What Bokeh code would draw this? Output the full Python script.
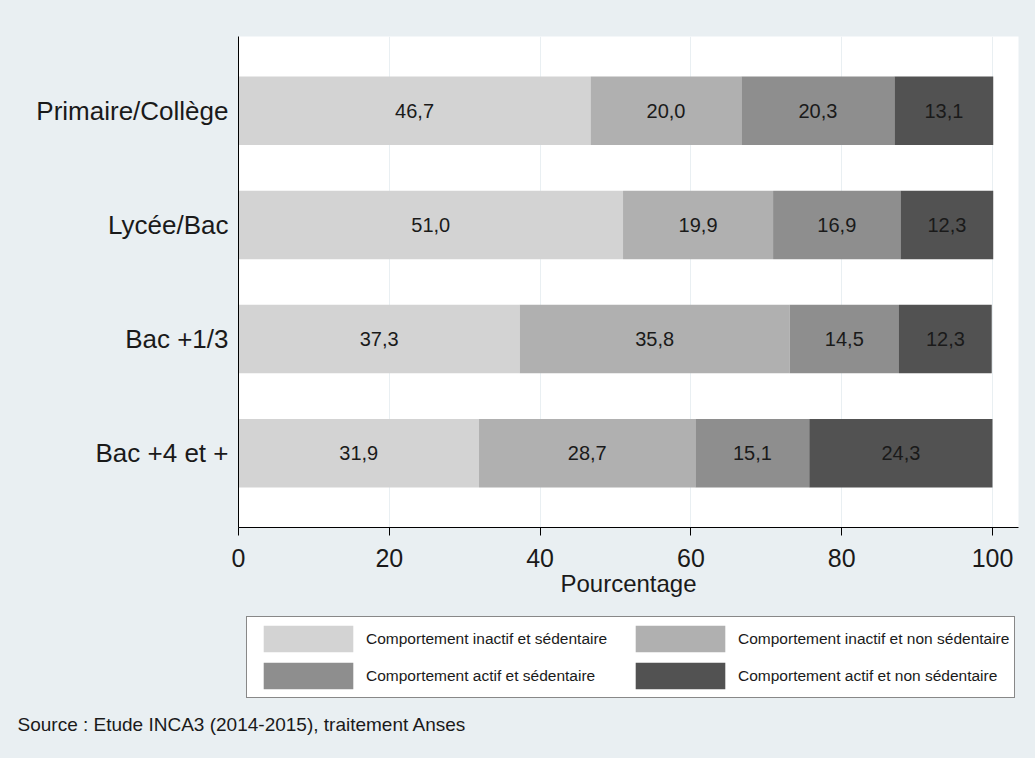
from bokeh.plotting import figure
from bokeh.models import (FactorRange, Range1d, FixedTicker, Legend, LegendItem,
                          Label, ColumnDataSource)
from bokeh.layouts import column
from bokeh.core.properties import value
from bokeh.embed import file_html
from bokeh.resources import INLINE

categories = ["Primaire/Collège", "Lycée/Bac", "Bac +1/3", "Bac +4 et +"]
inactif_sed = [46.7, 51.0, 37.3, 31.9]
inactif_nonsed = [20.0, 19.9, 35.8, 28.7]
actif_sed = [20.3, 16.9, 14.5, 15.1]
actif_nonsed = [13.1, 12.3, 12.3, 24.3]
series_names = ["Comportement inactif et sédentaire",
                "Comportement inactif et non sédentaire",
                "Comportement actif et sédentaire",
                "Comportement actif et non sédentaire"]
colors = ["#d3d3d3", "#b0b0b0", "#8e8e8e", "#525252"]
x_ticks = [0, 20, 40, 60, 80, 100]
source_text = "Source : Etude INCA3 (2014-2015), traitement Anses"

BG = "#e9eff2"
FONT = "Liberation Sans"

keys = ["s0", "s1", "s2", "s3"]
series = [inactif_sed, inactif_nonsed, actif_sed, actif_nonsed]
data = {"cat": categories}
for k, s in zip(keys, series):
    data[k] = s
src = ColumnDataSource(data)

# ---------------- main chart ----------------
p = figure(width=1035, height=610, output_backend="svg", toolbar_location=None,
           y_range=FactorRange(factors=list(reversed(categories)),
                               range_padding=0.15, range_padding_units="absolute"),
           x_range=Range1d(0, 103.45),
           min_border_left=238, min_border_right=17, min_border_top=36,
           min_border_bottom=83)
p.background_fill_color = "white"
p.border_fill_color = BG
p.outline_line_color = None

p.hbar_stack(keys, y="cat", height=0.6, color=colors, source=src, line_color=None)

lx, ly, lt = [], [], []
for i, c in enumerate(categories):
    left = 0.0
    for s in series:
        v = s[i]
        lx.append(left + v / 2.0)
        ly.append(c)
        lt.append(f"{v:.1f}".replace(".", ","))
        left += v
p.text(x=lx, y=ly, text=lt, text_align="center", text_baseline="middle",
       text_font=value(FONT), text_font_size="20px", text_color="#1a1a1a")

p.ygrid.grid_line_color = None
p.xgrid.grid_line_color = BG
p.xgrid.grid_line_width = 1
p.xgrid.ticker = FixedTicker(ticks=x_ticks)

xa = p.xaxis[0]
xa.ticker = FixedTicker(ticks=x_ticks)
xa.axis_label = "Pourcentage"
xa.axis_label_text_font = FONT
xa.axis_label_text_font_size = "24px"
xa.axis_label_text_font_style = "normal"
xa.axis_label_text_color = "#1a1a1a"
xa.axis_label_standoff = 0
xa.major_label_text_font = FONT
xa.major_label_text_font_size = "25px"
xa.major_label_text_color = "#1a1a1a"
xa.major_label_standoff = 13
xa.major_tick_out = 8
xa.major_tick_in = 0
xa.minor_tick_line_color = None
xa.axis_line_color = "black"
xa.major_tick_line_color = "black"

ya = p.yaxis[0]
ya.major_label_text_font = FONT
ya.major_label_text_font_size = "26px"
ya.major_label_text_color = "#1a1a1a"
ya.major_tick_line_color = None
ya.major_tick_out = 0
ya.major_tick_in = 0
ya.major_label_standoff = 10
ya.axis_line_color = "black"

# ---------------- legend + source panel ----------------
p2 = figure(width=1035, height=148, output_backend="svg", toolbar_location=None,
            x_range=Range1d(0, 1), y_range=Range1d(0, 1),
            x_axis_location=None, y_axis_location=None,
            min_border_left=0, min_border_right=0, min_border_top=0, min_border_bottom=0)
if "frame_align" in p2.properties():
    p2.frame_align = False
if "frame_align" in p.properties():
    p.frame_align = False
p2.background_fill_color = BG
p2.border_fill_color = BG
p2.outline_line_color = None
p2.xgrid.visible = False
p2.ygrid.visible = False

# legend proxies (kept outside the visible range of this panel)
proxies = []
for c, s in zip(colors, series):
    r = p2.hbar(y=[-5], right=[s[0]], height=0.5, fill_color=c, line_color=None)
    proxies.append(r)

legend = Legend(items=[LegendItem(label=n, renderers=[r]) for n, r in zip(series_names, proxies)],
                ncols=2, location=(246, 60), orientation="horizontal",
                glyph_width=112, glyph_height=33, label_height=33,
                label_width=254, label_standoff=2, spacing=4, padding=5, margin=0,
                label_text_font=FONT, label_text_font_size="15.5px",
                label_text_color="#1a1a1a", label_text_baseline="middle",
                border_line_color="#111111", border_line_width=1.5,
                background_fill_color="white", background_fill_alpha=1.0)
p2.add_layout(legend, "center")

p2.add_layout(Label(x=17, y=34, x_units="screen", y_units="screen", text=source_text,
                    text_font=FONT, text_font_size="19px", text_color="#1a1a1a",
                    text_baseline="middle", text_align="left"))

layout = column(p, p2, spacing=0)
html = file_html(layout, INLINE)
html = html.replace("</head>", "<style>html,body{margin:0;padding:0;background:%s;}</style></head>" % BG, 1)
open("out.html", "w").write(html)
